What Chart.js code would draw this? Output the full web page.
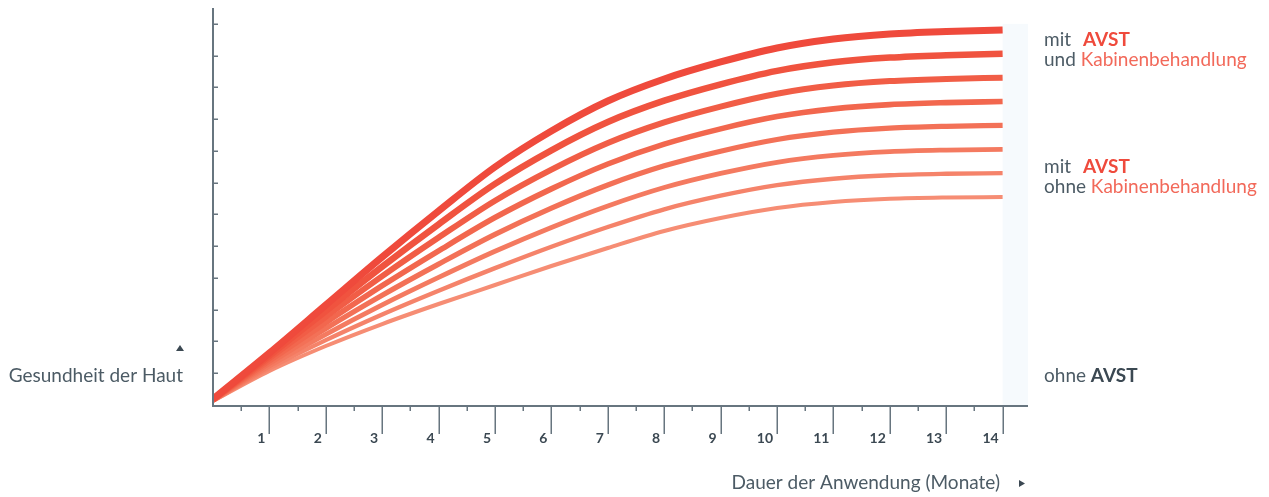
<!DOCTYPE html>
<html><head><meta charset="utf-8">
<script src="https://cdn.jsdelivr.net/npm/chart.js@4/dist/chart.umd.min.js"></script>
<style>html,body{margin:0;padding:0;background:#fff;}#wrap{width:1269px;height:497px;position:relative;}</style>
</head><body><div id="wrap"><canvas id="c"></canvas></div>
<script>
// ---- data (Hautgesundheit-Index 0–100 je Monat) ----
const months = [0,1,2,3,4,5,6,7,8,9,10,11,12,13,14];
const line1 = [1.51,13.10,25.19,37.28,48.87,59.95,69.02,76.57,82.12,86.40,89.92,92.19,93.45,94.08,94.46];
const line2 = [1.44,12.45,23.71,34.87,45.52,55.70,64.16,71.28,76.65,80.78,84.17,86.33,87.52,88.11,88.45];
const line3 = [1.37,11.80,22.24,32.46,42.17,51.46,59.30,65.99,71.18,75.17,78.41,80.46,81.59,82.13,82.44];
const line4 = [1.30,11.16,20.76,30.05,38.83,47.21,54.44,60.71,65.71,69.56,72.65,74.59,75.66,76.16,76.43];
const line5 = [1.22,10.51,19.29,27.64,35.48,42.97,49.59,55.42,60.24,63.94,66.89,68.73,69.73,70.19,70.42];
const line6 = [1.15,9.86,17.81,25.22,32.13,38.72,44.73,50.13,54.77,58.33,61.14,62.86,63.80,64.21,64.41];
const line7 = [1.08,9.21,16.34,22.81,28.79,34.47,39.87,44.84,49.30,52.72,55.38,57.00,57.87,58.24,58.40];
const line8 = [1.01,8.56,14.86,20.40,25.44,30.23,35.01,39.55,43.83,47.10,49.62,51.13,51.94,52.27,52.39];
const monthTicks = [1,2,3,4,5,6,7,8,9,10,11,12,13,14];
const monthLabels = ['1','2','3','4','5','6','7','8','9','10','11','12','13','14'];
const healthTicks = [8,16,24,32,40,48,56,64,72,80,88,96];
const yTitle = 'Gesundheit der Haut';
const xTitle = 'Dauer der Anwendung (Monate)';

// ---- styles ----
const allLines = [line1,line2,line3,line4,line5,line6,line7,line8];
const lineColors = ['#ef4a3c','#f0533f','#f15d46','#f2674e','#f37157','#f47a60','#f5836a','#f68d74'];
const lineWidths = [7,6.5,6,5.6,5.2,4.8,4.4,4];
const GRAY = '#4c5b65', DARK = '#3b4852', RED = '#ef4a3c', SALMON = '#f2695a', AXIS = '#67757f';
const FONT = 'Lato, "Noto Sans", sans-serif';

const deco = {
  id: 'deco',
  beforeDatasetsDraw(chart) {
    const {ctx, scales: {x, y}} = chart;
    ctx.save();
    ctx.fillStyle = '#f6fafd';
    const x0 = x.getPixelForValue(14), x1 = x.getPixelForValue(x.max);
    const yt = y.getPixelForValue(healthTicks[healthTicks.length - 1]), yb = y.getPixelForValue(0);
    ctx.fillRect(x0, yt, x1 - x0, yb - yt);
    ctx.restore();
  },
  afterDatasetsDraw(chart) {
    const {ctx, scales: {x, y}} = chart;
    const left = x.getPixelForValue(0), right = x.getPixelForValue(x.max);
    const top = y.getPixelForValue(y.max), bottom = y.getPixelForValue(0);
    ctx.save();
    ctx.strokeStyle = AXIS;
    ctx.lineWidth = 2;
    ctx.beginPath();
    ctx.moveTo(left, top); ctx.lineTo(left, bottom + 1); ctx.lineTo(right, bottom + 1);
    ctx.stroke();
    ctx.lineWidth = 1.5;
    ctx.beginPath();
    healthTicks.forEach(v => { const py = Math.round(y.getPixelForValue(v)) + 0.25; ctx.moveTo(left, py); ctx.lineTo(left + 5, py); });
    monthTicks.forEach(v => {
      const px = Math.round(x.getPixelForValue(v)) + 0.25;
      ctx.moveTo(px, bottom + 1); ctx.lineTo(px, bottom + 29);
      const ph = Math.round(x.getPixelForValue(v - 0.5)) + 0.25;
      ctx.moveTo(ph, bottom + 1); ctx.lineTo(ph, bottom + 6);
    });
    ctx.stroke();
    ctx.restore();
  },
  afterDraw(chart) {
    const {ctx, scales: {x, y}} = chart;
    const left = x.getPixelForValue(0), right = x.getPixelForValue(x.max);
    const bottom = y.getPixelForValue(0);
    ctx.save();
    ctx.textBaseline = 'middle';
    ctx.font = '19px ' + FONT;
    ctx.fillStyle = GRAY;
    ctx.textAlign = 'right';
    ctx.fillText(yTitle, left - 30, bottom - 29);
    ctx.fillStyle = DARK;
    ctx.beginPath();
    ctx.moveTo(left - 37, bottom - 54); ctx.lineTo(left - 29, bottom - 54); ctx.lineTo(left - 33, bottom - 60); ctx.closePath(); ctx.fill();
    ctx.fillStyle = GRAY;
    ctx.fillText(xTitle, right - 28, bottom + 78);
    ctx.fillStyle = DARK;
    ctx.beginPath();
    ctx.moveTo(right - 9, bottom + 75); ctx.lineTo(right - 9, bottom + 82); ctx.lineTo(right - 3, bottom + 78.5); ctx.closePath(); ctx.fill();
    ctx.textAlign = 'left';
    const lx = right + 16;
    const seg = (parts, py) => {
      let cx = lx;
      parts.forEach(p => {
        ctx.font = (p.b ? 'bold ' : '') + '19px ' + FONT;
        ctx.fillStyle = p.c;
        ctx.fillText(p.t, cx, py);
        cx += ctx.measureText(p.t).width + (p.g || 0);
      });
    };
    const yv = v => y.getPixelForValue(v);
    seg([{t:'mit', c:GRAY, g:12}, {t:'AVST', c:RED, b:true}], yv(line1[14]) + 10);
    seg([{t:'und ', c:GRAY}, {t:'Kabinenbehandlung', c:SALMON}], yv(line1[14]) + 30);
    seg([{t:'mit', c:GRAY, g:12}, {t:'AVST', c:RED, b:true}], yv(line7[14]) - 6);
    seg([{t:'ohne ', c:GRAY}, {t:'Kabinenbehandlung', c:SALMON}], yv(line7[14]) + 14);
    seg([{t:'ohne ', c:GRAY}, {t:'AVST', c:DARK, b:true}], bottom - 29);
    ctx.restore();
  }
};

new Chart(document.getElementById('c'), {
  type: 'line',
  data: {
    datasets: allLines.map((arr, i) => ({
      label: 'Linie ' + (i + 1),
      data: arr.map((v, j) => ({x: months[j], y: v})),
      borderColor: lineColors[i],
      borderWidth: lineWidths[i],
      pointRadius: 0,
      fill: false,
      cubicInterpolationMode: 'monotone',
      borderCapStyle: 'butt'
    }))
  },
  options: {
    responsive: true,
    maintainAspectRatio: false,
    animation: false,
    layout: {padding: {left: 213, right: 241, top: 8, bottom: 0}},
    plugins: {legend: {display: false}, tooltip: {enabled: false}},
    scales: {
      x: {
        type: 'linear', min: 0, max: 14.45,
        afterBuildTicks: s => { s.ticks = monthTicks.map(v => ({value: v})); },
        afterFit: s => { s.height = 92; },
        grid: {display: false, drawTicks: false},
        border: {display: false},
        ticks: {
          autoSkip: false, maxRotation: 0, align: 'end', labelOffset: -4, padding: 25,
          color: DARK, font: {family: FONT, size: 14, weight: 'bold'},
          callback: v => monthLabels[monthTicks.indexOf(v)]
        }
      },
      y: {type: 'linear', min: 0, max: 100, display: false}
    }
  },
  plugins: [deco]
});
</script>
</body></html>
